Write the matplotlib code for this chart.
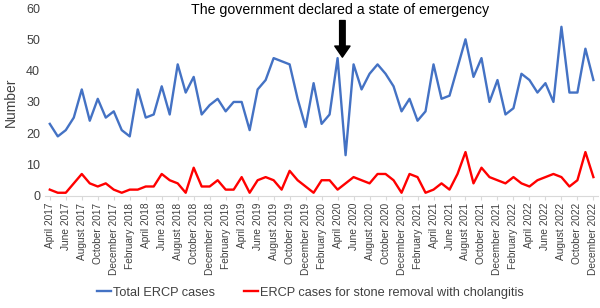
import pandas as pd
import matplotlib
matplotlib.use('Agg')
import matplotlib.pyplot as plt

plt.rcParams['font.family'] = ['Liberation Sans', 'DejaVu Sans']

# Monthly ERCP cases, April 2017 - December 2022
months = pd.date_range('2017-04-01', '2022-12-01', freq='MS')
total_ercp = [23, 19, 21, 25, 34, 24, 31, 25, 27, 21, 19, 34,
              25, 26, 35, 26, 42, 33, 38, 26, 29, 31, 27, 30,
              30, 21, 34, 37, 44, 43, 42, 31, 22, 36, 23, 26,
              44, 13, 42, 34, 39, 42, 39, 35, 27, 31, 24, 27,
              42, 31, 32, 41, 50, 38, 44, 30, 37, 26, 28, 39,
              37, 33, 36, 30, 54, 33, 33, 47, 37]
stone_cholangitis = [2, 1, 1, 4, 7, 4, 3, 4, 2, 1, 2, 2,
                     3, 3, 7, 5, 4, 1, 9, 3, 3, 5, 2, 2,
                     6, 1, 5, 6, 5, 2, 8, 5, 3, 1, 5, 5,
                     2, 4, 6, 5, 4, 7, 7, 5, 1, 7, 6, 1,
                     2, 4, 2, 7, 14, 4, 9, 6, 5, 4, 6, 4,
                     3, 5, 6, 7, 6, 3, 5, 14, 6]
labels = [m.strftime('%B %Y') for m in months]
emergency_month = '2020-04'

x = list(range(len(months)))

fig = plt.figure(figsize=(6, 3.08), dpi=100)
ax = fig.add_axes([0.075, 0.364, 0.922, 0.61])

ax.plot(x, total_ercp, color='#4472C4', lw=1.7, label='Total ERCP cases')
ax.plot(x, stone_cholangitis, color='#FF0000', lw=1.7,
        label='ERCP cases for stone removal with cholangitis')

ax.set_xlim(-0.6, len(x) - 0.4)
ax.set_ylim(0, 60)
ax.set_yticks(range(0, 61, 10))
ax.set_xticks(x[::2])
ax.set_xticklabels(labels[::2], rotation=90, fontsize=7.3, color='#404040')
ax.tick_params(axis='y', length=0, labelsize=9, colors='#404040')
ax.tick_params(axis='x', length=3, color='#D9D9D9', pad=2)
for s in ['top', 'right', 'left']:
    ax.spines[s].set_visible(False)
ax.spines['bottom'].set_color('#D9D9D9')
ax.set_ylabel('Number', fontsize=10, color='#404040', labelpad=6)

# arrow marking the state of emergency
i = list(months.strftime('%Y-%m')).index(emergency_month) + 0.6
ax.annotate('', xy=(i, 44.3), xytext=(i, 56),
            arrowprops=dict(facecolor='black', edgecolor='black',
                            width=4, headwidth=11, headlength=8))
fig.text(0.567, 0.967, 'The government declared a state of emergency',
         ha='center', va='center', fontsize=10.2, color='black')

fig.legend(loc='center', bbox_to_anchor=(0.517, 0.05), ncol=2, frameon=False,
           fontsize=9.2, handlelength=1.1, handletextpad=0.15, columnspacing=2.3,
           labelcolor='#404040')

fig.savefig('out.png', dpi=100)
